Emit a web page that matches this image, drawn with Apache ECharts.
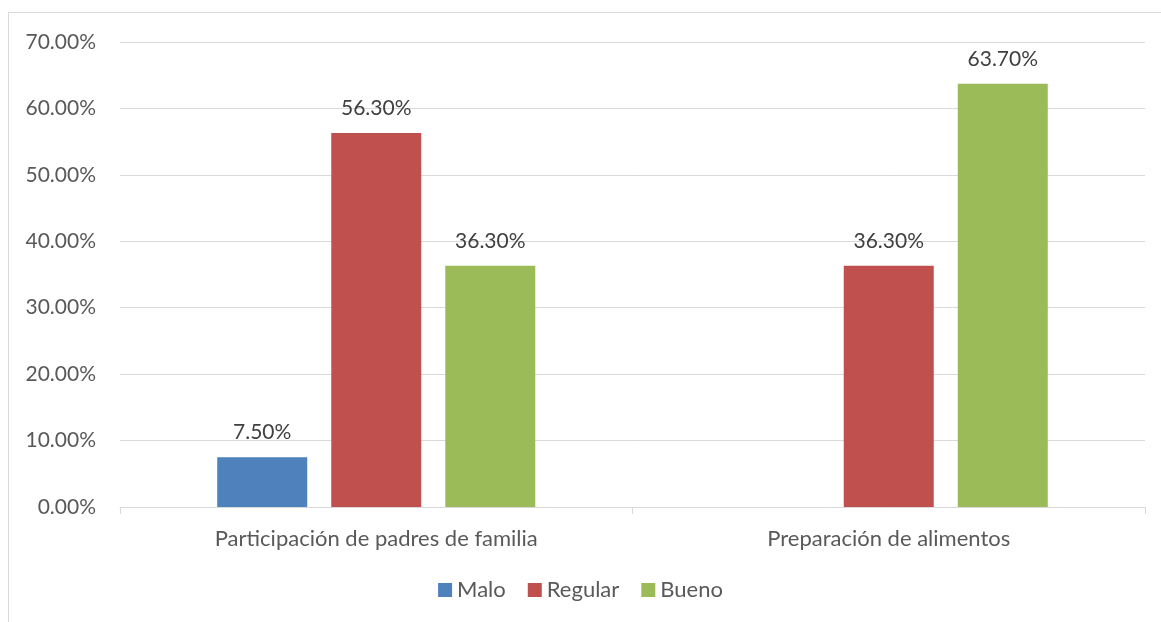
<!DOCTYPE html>
<html>
<head>
<meta charset="utf-8">
<script src="https://cdn.jsdelivr.net/npm/echarts@6/dist/echarts.min.js"></script>
<style>
  html, body { margin: 0; padding: 0; background: #fff; }
  #frame {
    position: absolute; left: 8px; top: 12px; width: 1160px; height: 620px;
    border-left: 1px solid #d9d9d9; border-top: 1px solid #d9d9d9;
  }
  #chart { position: absolute; left: 0; top: 0; width: 1161px; height: 622px; }
</style>
</head>
<body>
<div id="frame"></div>
<div id="chart"></div>
<script>
// datos del gráfico
const categories = ["Participación de padres de familia", "Preparación de alimentos"];
const seriesNames = ["Malo", "Regular", "Bueno"];
const malo = [7.5, null];
const regular = [56.3, 36.3];
const bueno = [36.3, 63.7];
const colors = ["#4f81bd", "#c0504d", "#9bbb59"];

const font = "Lato";
const labelColor = "#595959";
const fs = 21;

const chart = echarts.init(document.getElementById("chart"));

const makeSeries = (name, data, color) => ({
  name: name,
  type: "bar",
  data: data,
  barWidth: 90,
  barGap: "26.7%",
  itemStyle: { color: color },
  label: {
    show: true,
    position: "top",
    distance: 14,
    color: "#404040",
    fontFamily: font,
    fontSize: fs,
    formatter: (p) => p.value.toFixed(2) + "%",
  },
});

chart.setOption({
  animation: false,
  textStyle: { fontFamily: font },
  grid: { left: 120, right: 16, top: 42, bottom: 115 },
  legend: {
    bottom: 16,
    left: "center",
    itemWidth: 14,
    itemHeight: 14,
    itemGap: 22,
    icon: "rect",
    textStyle: { color: labelColor, fontSize: 22, fontFamily: font },
    data: seriesNames,
  },
  xAxis: {
    type: "category",
    data: categories,
    axisLine: { lineStyle: { color: "#d9d9d9", width: 1 } },
    axisTick: { show: true, length: 7, lineStyle: { color: "#d9d9d9" } },
    axisLabel: { color: labelColor, fontSize: 22, margin: 21, fontFamily: font },
  },
  yAxis: {
    type: "value",
    min: 0,
    max: 70,
    interval: 10,
    axisLine: { show: false },
    axisTick: { show: false },
    axisLabel: {
      color: labelColor,
      fontSize: fs,
      margin: 24,
      fontFamily: font,
      formatter: (v) => v.toFixed(2) + "%",
    },
    splitLine: { lineStyle: { color: "#d9d9d9", width: 1 } },
  },
  series: [
    makeSeries(seriesNames[0], malo, colors[0]),
    makeSeries(seriesNames[1], regular, colors[1]),
    makeSeries(seriesNames[2], bueno, colors[2]),
  ],
});
</script>
</body>
</html>
